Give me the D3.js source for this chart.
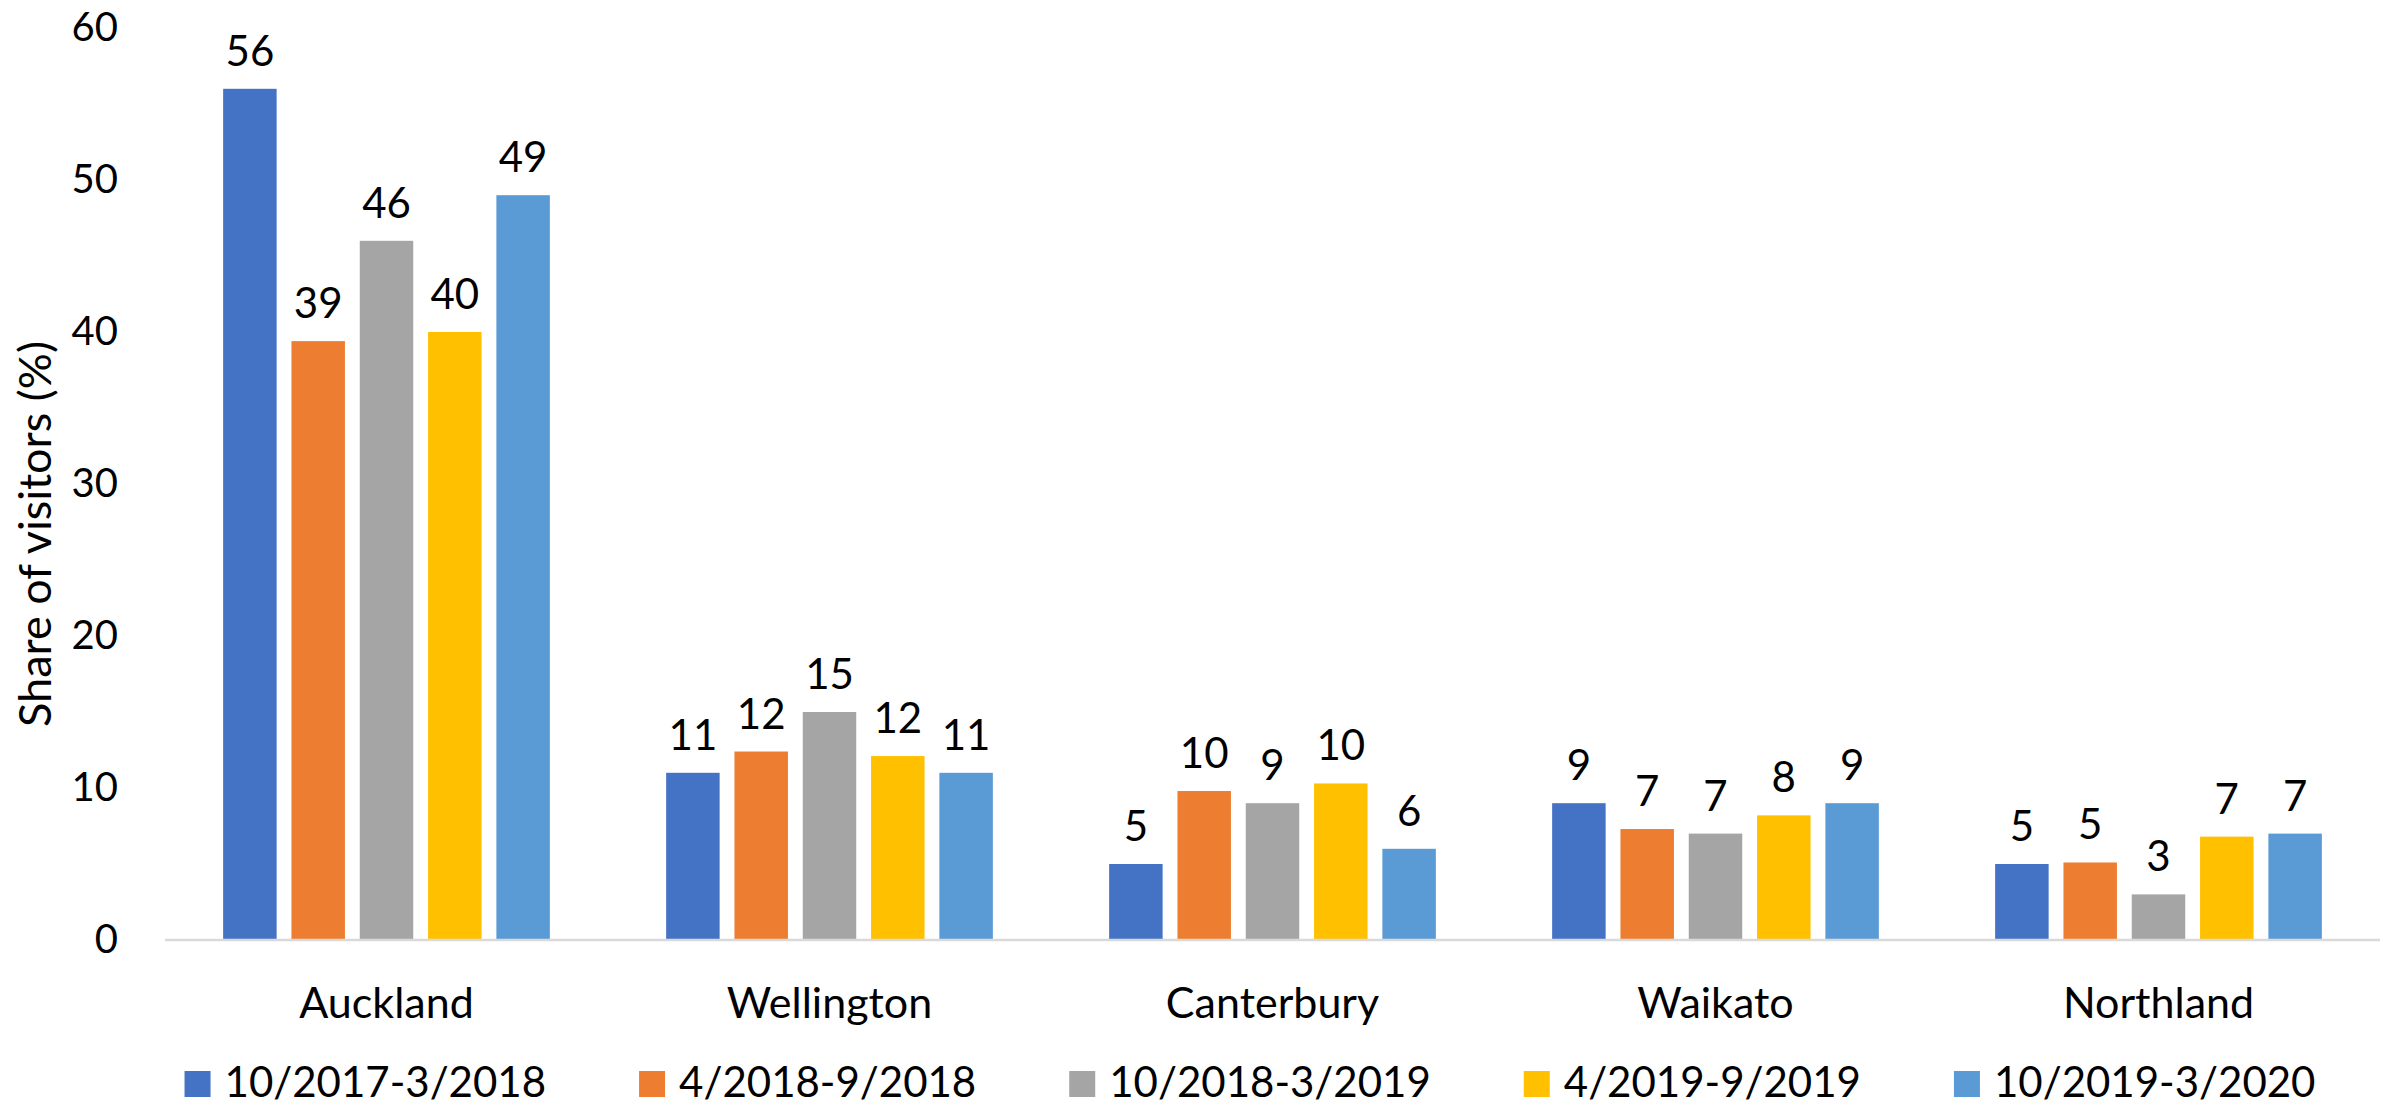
<!DOCTYPE html>
<html>
<head>
<meta charset="utf-8">
<script src="https://cdn.jsdelivr.net/npm/d3@7"></script>
<style>
  html, body { margin: 0; padding: 0; background: #fff; }
  svg { display: block; }
  text { font-family: Lato, "Open Sans", "Liberation Sans", sans-serif; fill: #000; }
</style>
</head>
<body>
<svg id="chart" width="2387" height="1107"></svg>
<script>
// Regions on the x axis
const regions = ["Auckland", "Wellington", "Canterbury", "Waikato", "Northland"];

// Survey periods (one bar per period within each region)
const periods = ["10/2017-3/2018", "4/2018-9/2018", "10/2018-3/2019", "4/2019-9/2019", "10/2019-3/2020"];

// Share of visitors (%) per region, one array per period
const p2017_18 = [56.0, 11.0, 5.0, 9.0, 5.0];
const p2018a   = [39.4, 12.4, 9.8, 7.3, 5.1];
const p2018_19 = [46.0, 15.0, 9.0, 7.0, 3.0];
const p2019a   = [40.0, 12.1, 10.3, 8.2, 6.8];
const p2019_20 = [49.0, 11.0, 6.0, 9.0, 7.0];

const seriesValues = [p2017_18, p2018a, p2018_19, p2019a, p2019_20];
const colors = ["#4472C4", "#ED7D31", "#A5A5A5", "#FFC000", "#5B9BD5"];

// Y-axis ticks
const yTicks = [0, 10, 20, 30, 40, 50, 60];
const yTitle = "Share of visitors (%)";

const svg = d3.select("#chart");

const plot = { left: 165, right: 2380, top: 28, bottom: 940 };

const x0 = d3.scaleBand()
  .domain(regions)
  .range([plot.left, plot.right])
  .paddingInner(0.2625)
  .paddingOuter(0.13125);

const x1 = d3.scaleBand()
  .domain(periods)
  .range([0, x0.bandwidth()])
  .paddingInner(0.217)
  .paddingOuter(0);

const y = d3.scaleLinear()
  .domain([0, 60])
  .range([plot.bottom, plot.top]);

// Flattened records for the bars
const records = [];
periods.forEach((p, si) => {
  regions.forEach((r, ri) => {
    records.push({ region: r, period: p, value: seriesValues[si][ri], color: colors[si] });
  });
});

// Bars
svg.append("g").attr("class", "bars")
  .selectAll("rect")
  .data(records)
  .join("rect")
  .attr("x", d => x0(d.region) + x1(d.period))
  .attr("y", d => y(d.value))
  .attr("width", x1.bandwidth())
  .attr("height", d => y(0) - y(d.value))
  .attr("fill", d => d.color);

// Value labels above the bars
const fmt = d3.format(".0f");
svg.append("g").attr("class", "value-labels")
  .selectAll("text")
  .data(records)
  .join("text")
  .attr("x", d => x0(d.region) + x1(d.period) + x1.bandwidth() / 2)
  .attr("y", d => y(d.value) - 23)
  .attr("text-anchor", "middle")
  .style("font-size", "42px")
  .text(d => fmt(d.value));

// Y axis: tick labels only, no axis line
const yAxis = svg.append("g")
  .attr("transform", `translate(${plot.left},0)`)
  .call(d3.axisLeft(y).tickValues(yTicks).tickSize(0).tickPadding(47).tickFormat(d3.format("d")));
yAxis.select(".domain").remove();
yAxis.selectAll("text")
  .style("font-size", "40px")
  .style("font-family", "Lato, 'Open Sans', sans-serif")
  .attr("fill", "#000");

// X axis baseline and category labels
const xAxis = svg.append("g")
  .attr("transform", `translate(0,${plot.bottom})`)
  .call(d3.axisBottom(x0).tickSize(0).tickPadding(0));
xAxis.select(".domain")
  .attr("stroke", "#D9D9D9")
  .attr("stroke-width", 2.5)
  .attr("d", `M${plot.left},0H${plot.right}`);
xAxis.selectAll("text")
  .attr("y", 78)
  .attr("dy", 0)
  .style("font-size", "43px")
  .style("font-family", "Lato, 'Open Sans', sans-serif")
  .attr("fill", "#000");

// Y-axis title
svg.append("text")
  .attr("transform", "translate(51,534) rotate(-90)")
  .attr("text-anchor", "middle")
  .style("font-size", "45px")
  .text(yTitle);

// Legend, centred below the axis
const legend = svg.append("g").attr("class", "legend");
const items = legend.selectAll("g")
  .data(periods)
  .join("g");
items.append("rect")
  .attr("width", 26)
  .attr("height", 26)
  .attr("y", -26)
  .attr("fill", (d, i) => colors[i]);
items.append("text")
  .attr("x", 40)
  .attr("y", 0)
  .style("font-size", "42px")
  .text(d => d);

const itemGap = 93;
let cursor = 0;
items.each(function () {
  const w = this.querySelector("text").getComputedTextLength() + 40;
  d3.select(this).attr("data-x", cursor);
  cursor += w + itemGap;
});
const legendWidth = cursor - itemGap;
const legendStart = 1250 - legendWidth / 2;
items.attr("transform", function () {
  return `translate(${legendStart + (+this.getAttribute("data-x"))},1097)`;
});
</script>
</body>
</html>
